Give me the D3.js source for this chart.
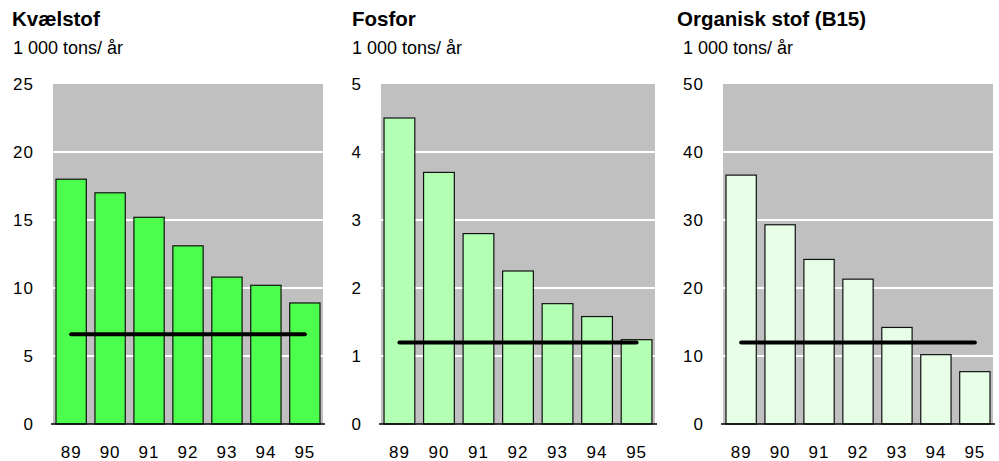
<!DOCTYPE html>
<html>
<head>
<meta charset="utf-8">
<script src="https://cdn.jsdelivr.net/npm/d3@7"></script>
<style>
  html, body { margin: 0; padding: 0; background: #fff; }
  svg { display: block; font-family: "Liberation Sans", Arial, sans-serif; }
</style>
</head>
<body>
<svg id="chart" width="999" height="461"></svg>
<script>
// Years on the x axis
const years = ["89", "90", "91", "92", "93", "94", "95"];

// Discharge per year, 1 000 tons/year
const kvaelstof = [18.0, 17.0, 15.2, 13.1, 10.8, 10.2, 8.9];
const fosfor = [4.5, 3.7, 2.8, 2.25, 1.77, 1.58, 1.24];
const organiskStof = [36.6, 29.3, 24.2, 21.3, 14.2, 10.2, 7.7];

// Target level for each substance
const maal = [6.6, 1.2, 12];

// Panel titles, unit and y-axis maxima / ticks
const titles = ["Kvælstof", "Fosfor", "Organisk stof (B15)"];
const unit = "1 000 tons/ år";
const yMax = [25, 5, 50];
const yTicks = [
  [0, 5, 10, 15, 20, 25],
  [0, 1, 2, 3, 4, 5],
  [0, 10, 20, 30, 40, 50]
];
const seriesValues = [kvaelstof, fosfor, organiskStof];

// Placement and colours of the three panels
const layout = [
  { left: 53,  right: 323, titleX: 12,  unitX: 13,  fill: "#4dff4d" },
  { left: 381, right: 655, titleX: 352, unitX: 352, fill: "#b3ffb3" },
  { left: 723, right: 993, titleX: 677, unitX: 683, fill: "#e6ffe6" }
];
const plotTop = 84, plotBottom = 424;

const svg = d3.select("#chart");

titles.forEach((title, i) => {
  const L = layout[i];
  const values = seriesValues[i];
  const g = svg.append("g");

  const x = d3.scaleBand()
    .domain(years)
    .range([L.left, L.right])
    .paddingInner(0.222)
    .paddingOuter(0.077);

  const y = d3.scaleLinear()
    .domain([0, yMax[i]])
    .range([plotBottom, plotTop]);

  // Titles
  g.append("text")
    .attr("x", L.titleX).attr("y", 26)
    .attr("font-size", 20.5).attr("font-weight", "bold")
    .attr("fill", "#000")
    .text(title);
  g.append("text")
    .attr("x", L.unitX).attr("y", 54)
    .attr("font-size", 18)
    .attr("fill", "#000")
    .text(unit);

  // Plot background
  g.append("rect")
    .attr("x", L.left).attr("y", plotTop)
    .attr("width", L.right - L.left).attr("height", plotBottom - plotTop)
    .attr("fill", "#c0c0c0");

  // Horizontal gridlines
  g.selectAll("line.grid")
    .data(yTicks[i].filter(t => t > 0 && t < yMax[i]))
    .join("line")
    .attr("class", "grid")
    .attr("x1", L.left).attr("x2", L.right)
    .attr("y1", d => y(d)).attr("y2", d => y(d))
    .attr("stroke", "#ffffff").attr("stroke-width", 2);

  // Y axis labels
  const yAxis = d3.axisLeft(y)
    .tickValues(yTicks[i])
    .tickFormat(d3.format("d"))
    .tickSize(0)
    .tickPadding(19);
  const ya = g.append("g").attr("transform", `translate(${L.left},0)`).call(yAxis);
  ya.select(".domain").remove();
  ya.selectAll("text")
    .attr("font-size", 17)
    .attr("letter-spacing", "1px")
    .attr("fill", "#000")
    .attr("font-family", "Liberation Sans, Arial, sans-serif");

  // Bars
  g.selectAll("rect.bar")
    .data(values)
    .join("rect")
    .attr("class", "bar")
    .attr("x", (d, j) => x(years[j]))
    .attr("y", d => y(d))
    .attr("width", x.bandwidth())
    .attr("height", d => y(0) - y(d))
    .attr("fill", L.fill)
    .attr("stroke", "#111")
    .attr("stroke-width", 1.2);

  // Zero axis line
  g.append("line")
    .attr("x1", L.left - 2).attr("x2", L.right + 2)
    .attr("y1", y(0)).attr("y2", y(0))
    .attr("stroke", "#000").attr("stroke-width", 1.5);

  // Target line across the bars
  const line = d3.line()
    .x(d => x(d) + x.bandwidth() / 2)
    .y(() => y(maal[i]));
  g.append("path")
    .datum([years[0], years[years.length - 1]])
    .attr("d", line)
    .attr("fill", "none")
    .attr("stroke", "#000")
    .attr("stroke-width", 4)
    .attr("stroke-linecap", "round");

  // X axis labels
  const xAxis = d3.axisBottom(x).tickSize(0).tickPadding(22);
  const xa = g.append("g").attr("transform", `translate(0,${plotBottom})`).call(xAxis);
  xa.select(".domain").remove();
  xa.selectAll("text")
    .attr("font-size", 17)
    .attr("letter-spacing", "1px")
    .attr("fill", "#000")
    .attr("font-family", "Liberation Sans, Arial, sans-serif");
});
</script>
</body>
</html>
